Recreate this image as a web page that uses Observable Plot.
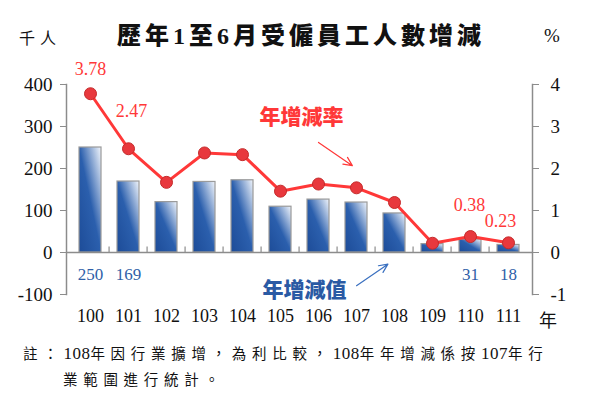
<!DOCTYPE html>
<html>
<head>
<meta charset="utf-8">
<script src="https://cdn.jsdelivr.net/npm/d3@7"></script>
<script src="https://cdn.jsdelivr.net/npm/@observablehq/plot@0.6"></script>
<style>
  body { margin: 0; background: white; }
  #wrap { position: relative; width: 600px; height: 400px; overflow: hidden; }
  #wrap .t { position: absolute; white-space: nowrap; color: #111; }
  .c { transform: translate(-50%, -50%); }
  .cjk { font-family: "Noto Sans CJK TC", sans-serif; }
  .num { font-family: "Liberation Serif", serif; }
  .n { font-family: "Liberation Serif", serif; font-size: 17px; letter-spacing: 0.5px; }
</style>
</head>
<body>
<div id="wrap">
  <div id="chart"></div>
  <div class="t c cjk" style="left:301px; top:33px; font-size:24px; font-weight:900; letter-spacing:4px;">歷年<span class="num">1</span>至<span class="num">6</span>月受僱員工人數增減</div>
  <div class="t c cjk" style="left:40px; top:37px; font-size:16px; letter-spacing:5px;">千人</div>
  <div class="t c num" style="left:552px; top:36px; font-size:19px;">%</div>
  <div class="t c cjk" style="left:548px; top:319px; font-size:18px;">年</div>
  <div class="t cjk" style="left:23px; top:342px; font-size:14.5px; letter-spacing:5.7px;">註：<span class="n">108</span>年因行業擴增，為利比較，<span class="n">108</span>年年增減係按<span class="n">107</span>年行</div>
  <div class="t cjk" style="left:63px; top:368px; font-size:14.5px; letter-spacing:5.7px;">業範圍進行統計。</div>
</div>
<script>
// 年度 (民國)
const years = ["100", "101", "102", "103", "104", "105", "106", "107", "108", "109", "110", "111"];
// 年增減值 (千人)
const values = [250, 169, 120, 168, 172, 109, 126, 119, 93, 20, 31, 18];
// 年增減率 (%)
const rates = [3.78, 2.47, 1.67, 2.37, 2.33, 1.46, 1.63, 1.54, 1.19, 0.22, 0.38, 0.23];
// 有標示數字的年度
const valueLabelYears = ["100", "101", "110", "111"];
const rateLabelYears = ["100", "101", "110", "111"];
// 左軸刻度 (右軸 = 左軸 / 100)
const yTicks = [-100, 0, 100, 200, 300, 400];

const data = years.map((year, i) => ({year, value: values[i], rate: rates[i]}));

// label nudges (px)
const rateNudge = {"100": [0, -25], "101": [3, -38], "110": [-1, -31], "111": [-8, -22]};

const red = "#ff3838";
const blue = "#2f5fa8";
const gray = "#8c8c8c";
const serif = "Liberation Serif";
const cjk = "Noto Sans CJK TC";
const half = (600 - 66 - 68) / years.length / 2;

const gradient = () => {
  const defs = d3.create("svg:defs");
  const g = defs.append("linearGradient").attr("id", "barGrad")
    .attr("x1", 0).attr("y1", 1).attr("x2", 1).attr("y2", 0);
  g.append("stop").attr("offset", "0%").attr("stop-color", "#1d4c98");
  g.append("stop").attr("offset", "50%").attr("stop-color", "#2b5fad");
  g.append("stop").attr("offset", "100%").attr("stop-color", "#f2f6fc");
  return defs.node();
};

let chart = Plot.plot({
  width: 600,
  height: 400,
  marginLeft: 66,
  marginRight: 68,
  marginTop: 84,
  marginBottom: 106,
  style: {fontFamily: serif, fontSize: "18px", background: "white"},
  x: {domain: years, paddingInner: 0.42, paddingOuter: 0.21},
  y: {domain: [-100, 400]},
  marks: [
    gradient,
    Plot.frame({anchor: "left", stroke: gray, strokeWidth: 1.5}),
    Plot.frame({anchor: "right", stroke: gray, strokeWidth: 1.5}),
    Plot.axisY({anchor: "left", ticks: yTicks, tickFormat: d => d, stroke: gray, fill: "#111",
      tickSize: 6, tickPadding: 8, fontSize: 19, fontFamily: serif, label: null}),
    Plot.axisY({anchor: "right", ticks: yTicks, tickFormat: d => d / 100, stroke: gray, fill: "#111",
      tickSize: 6, tickPadding: 12, fontSize: 19, fontFamily: serif, label: null}),
    Plot.axisX({tickSize: 0, tickPadding: 15, fill: "#111", fontSize: 18, fontFamily: serif, label: null}),
    Plot.barY(data, {x: "year", y: "value", fill: "url(#barGrad)", stroke: "#9a9a9a", strokeWidth: 1.2}),
    Plot.ruleY([0], {stroke: gray, strokeWidth: 1.5}),
    Plot.ruleX(years.slice(1), {x: d => d, y1: 0, y2: 13, dx: -half, stroke: gray, strokeWidth: 1.2}),
    Plot.line(data, {x: "year", y: d => d.rate * 100, stroke: red, strokeWidth: 3}),
    Plot.dot(data, {x: "year", y: d => d.rate * 100, r: 6, fill: "#e8383d", stroke: "#c42a2a", strokeWidth: 1}),
    ...rateLabelYears.map(yr => Plot.text(data.filter(d => d.year === yr), {
      x: "year", y: d => d.rate * 100, text: d => d.rate.toFixed(2), fill: red,
      fontSize: 18, fontFamily: serif, dx: rateNudge[yr][0], dy: rateNudge[yr][1]
    })),
    Plot.text(data.filter(d => valueLabelYears.includes(d.year)), {
      x: "year", y: 0, text: d => String(d.value), fill: blue, fontSize: 17, fontFamily: serif, dy: 22
    }),
    // 註解文字與箭頭
    Plot.text(["年增減率"], {x: () => "105", y: () => 321, text: d => d, dx: 21, fill: red,
      fontFamily: cjk, fontWeight: 900, fontSize: 21}),
    Plot.text(["年增減值"], {x: () => "105", y: () => -90, text: d => d, dx: 24, fill: "#2a5aa4",
      fontFamily: cjk, fontWeight: 900, fontSize: 21}),
    Plot.arrow([{x1: "106", y1: 262, x2: "107", y2: 200}], {x1: "x1", y1: "y1", x2: "x2", y2: "y2",
      stroke: red, strokeWidth: 1.2, headLength: 12, headAngle: 50, insetEnd: 5}),
    Plot.arrow([{x1: "107", y1: -79, x2: "108", y2: -17}], {x1: "x1", y1: "y1", x2: "x2", y2: "y2",
      stroke: "#3a70c0", strokeWidth: 1.2, headLength: 12, headAngle: 50, insetEnd: 8})
  ]
});

d3.select('#chart').append(() => chart);
</script>
</body>
</html>
